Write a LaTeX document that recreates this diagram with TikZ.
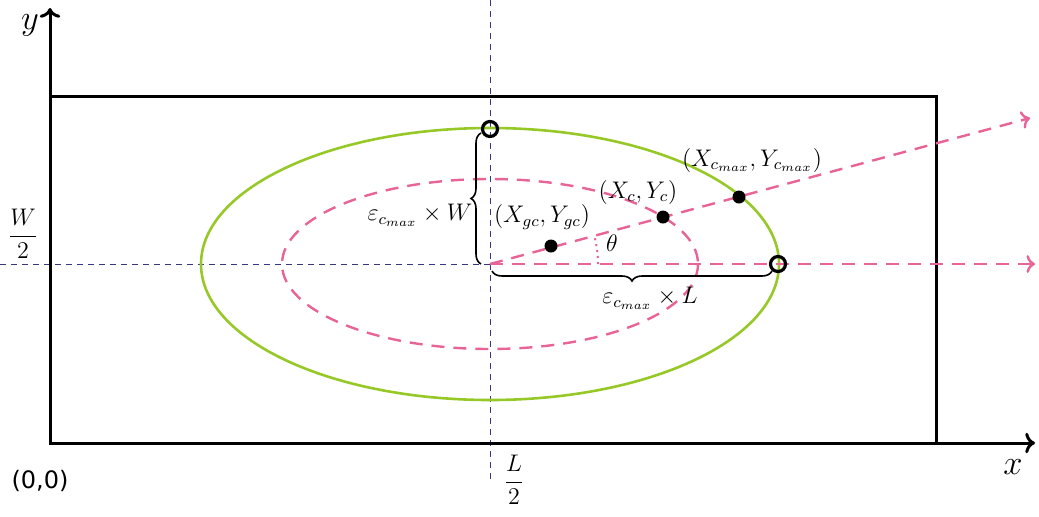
\documentclass[tikz,border=0pt]{standalone}
\usepackage{fontspec}
\newfontfamily\orgfont{DejaVu Sans}
\usetikzlibrary{arrows.meta,positioning,decorations.pathreplacing}
\definecolor{lgreen}{RGB}{150,200,40}
\definecolor{lpink}{RGB}{232,100,150}
\definecolor{gblue}{RGB}{55,55,125}

\begin{document}
\begin{tikzpicture}[x=0.5pt,y=-0.5pt,font=\large]
\useasboundingbox (0,0) rectangle (1039,516);
\coordinate (o) at (50,443);
\coordinate (c) at (490,264);
\coordinate (ytip) at (50,8);
\coordinate (xtip) at (1035,443);
\coordinate (vtop) at (490,0);
\coordinate (vbot) at (490,480);
\coordinate (hleft) at (0,264);
\coordinate (raytip) at (1030,118);
\coordinate (htip) at (1035,264);
% guide lines through the centre
\draw[gblue,dash pattern=on 3pt off 2.5pt,line width=.5pt] (vtop) -- (vbot);
\draw[gblue,dash pattern=on 3pt off 2.5pt,line width=.5pt] (hleft) -- (c);
% plate and axes
\draw[line width=1.5pt] (50,96) rectangle (936,443);
\draw[->,line width=1.5pt] (o) -- (ytip);
\draw[->,line width=1.5pt] (o) -- (xtip);
% ellipses
\draw[lgreen,line width=1.3pt] (c) ellipse [x radius=289,y radius=136];
\draw[lpink,line width=1.2pt,dash pattern=on 6.5pt off 4.5pt] (c) ellipse [x radius=208,y radius=85];
\draw[->,lpink,line width=1.2pt,dash pattern=on 6.5pt off 4.5pt] (c) -- (htip);
\draw[->,lpink,line width=1.2pt,dash pattern=on 6.5pt off 4.5pt] (c) -- (raytip);
\draw[lpink,dotted,line width=1pt] (c) ++(108,0) arc[start angle=0,end angle=-15,radius=108];
% points
\node[circle,fill,inner sep=0pt,minimum size=6.5pt] (pgc) at (551,246) {};
\node[circle,fill,inner sep=0pt,minimum size=6.5pt] (pc) at (663,217) {};
\node[circle,fill,inner sep=0pt,minimum size=6.5pt] (pmax) at (739,197) {};
\node[circle,draw,line width=1.6pt,inner sep=0pt,minimum size=7.5pt] (ptop) at (490,129) {};
\node[circle,draw,line width=1.6pt,inner sep=0pt,minimum size=7.5pt] (pright) at (778,264) {};
% braces
\draw[decorate,decoration={brace,amplitude=5pt},line width=.8pt] (481,264) -- (481,133);
\draw[decorate,decoration={brace,amplitude=5pt},line width=.8pt] (772,271) -- (492,271);
% labels
\node (ly) at (30,25) {\LARGE$y$};
\node (lx) at (1013,467) {\LARGE$x$};
\node (lw) at (23,234) {$\displaystyle\frac{W}{2}$};
\node (ll) at (514,480) {$\displaystyle\frac{L}{2}$};
\node (lo) at (40,481) {\orgfont(0,0)};
\node (lth) at (612,243) {$\theta$};
\node (lgc) at (542,217) {$(X_{gc},Y_{gc})$};
\node (lc) at (638,192) {$(X_c,Y_c)$};
\node (lmax) at (752,160) {$(X_{c_{max}},Y_{c_{max}})$};
\node (lew) at (420,215) {$\varepsilon_{c_{max}}\times W$};
\node (lel) at (650,298) {$\varepsilon_{c_{max}}\times L$};
\end{tikzpicture}
\end{document}
